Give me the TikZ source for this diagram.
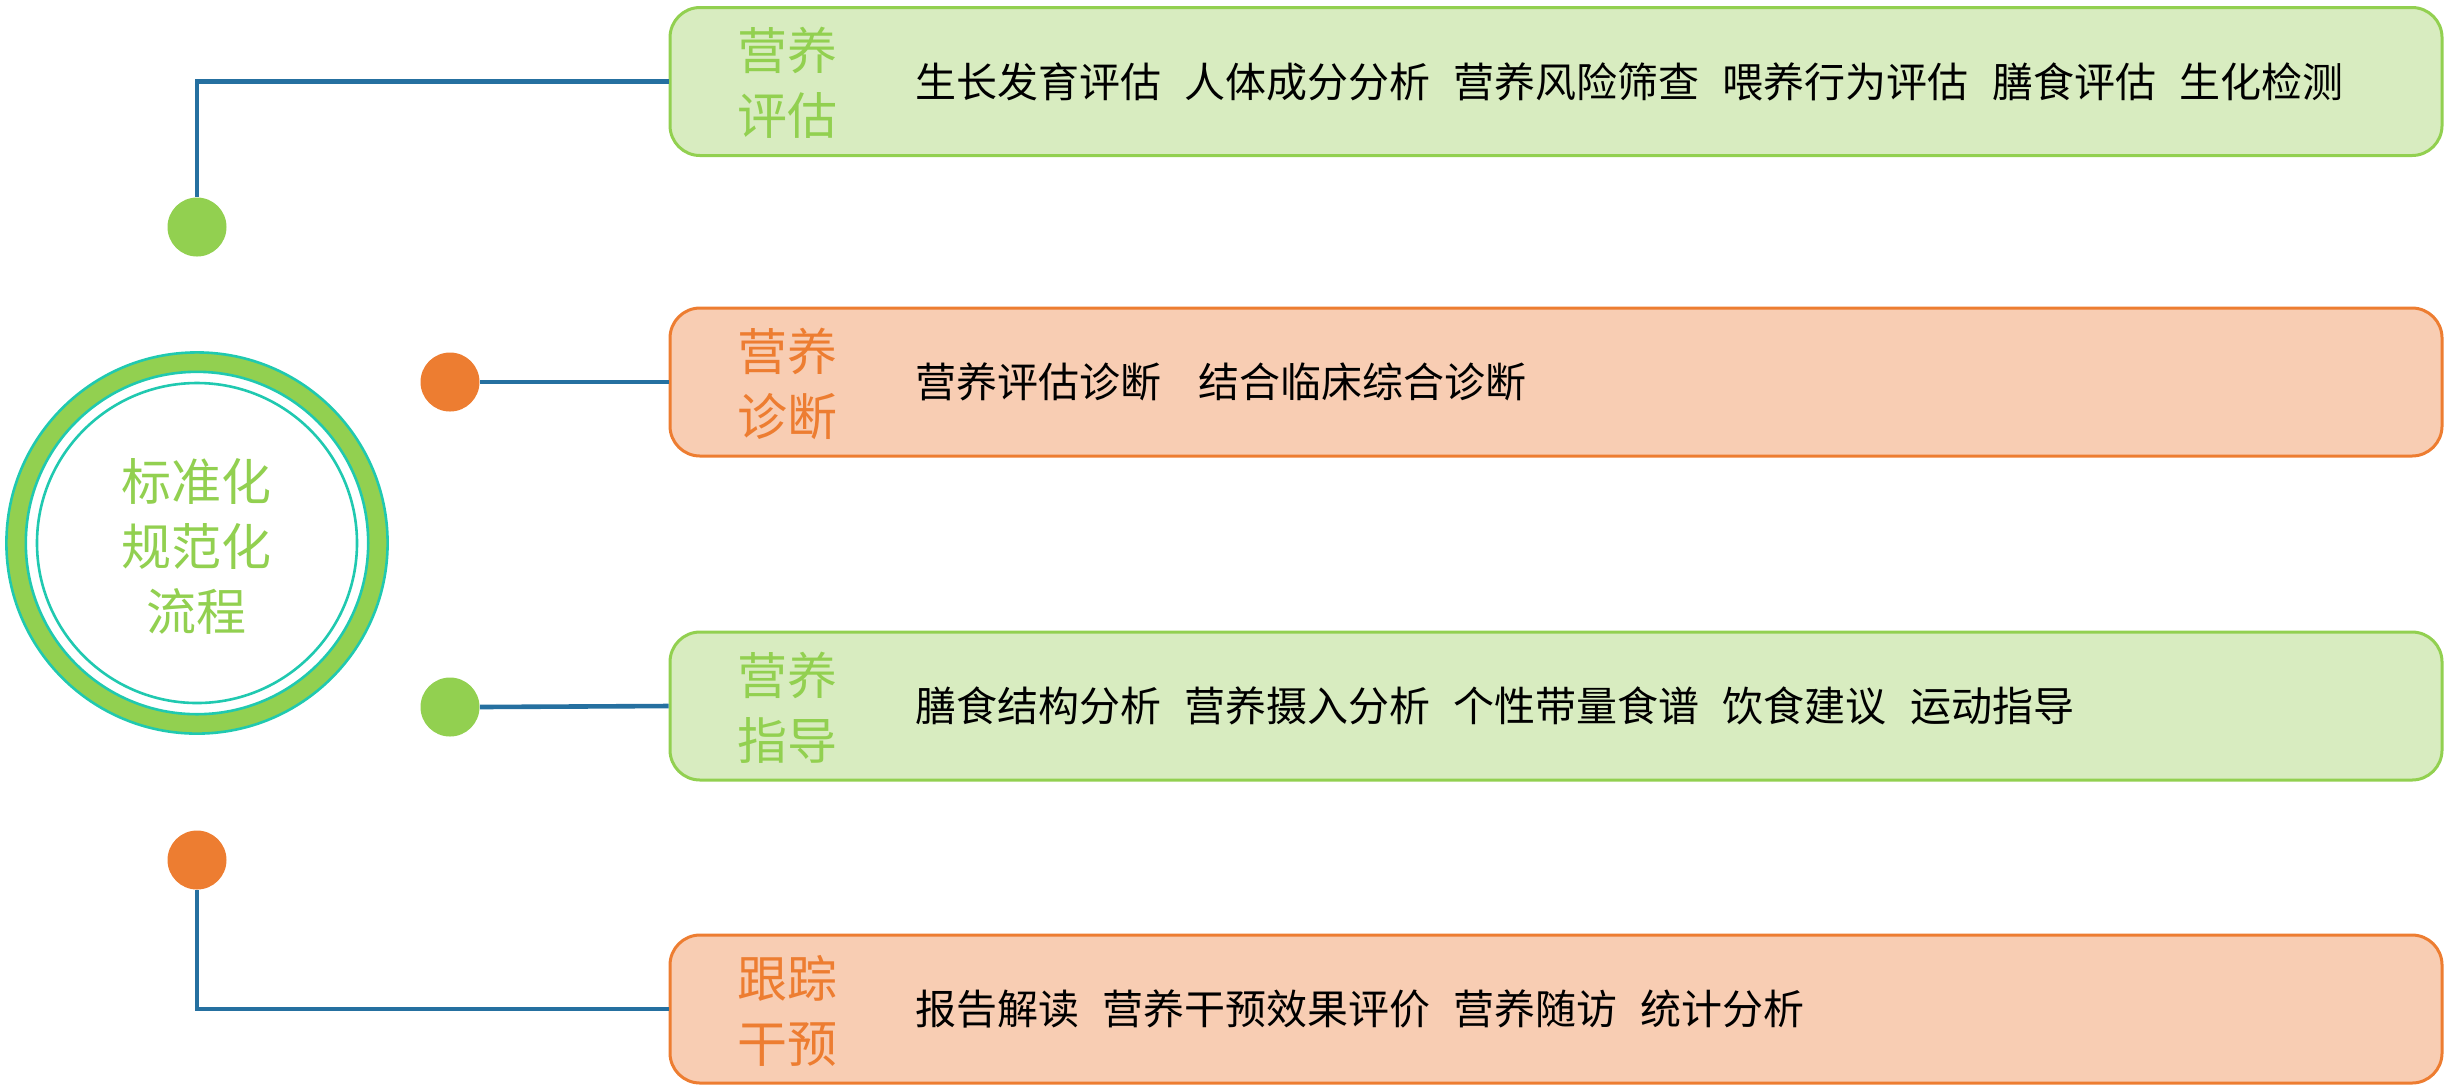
\documentclass[tikz,border=0pt]{standalone}
\usepackage{fontspec}
\setmainfont{Noto Sans CJK SC}
\definecolor{leafGreen}{HTML}{92D050}
\definecolor{leafPale}{HTML}{D8ECC0}
\definecolor{sunOrange}{HTML}{ED7D31}
\definecolor{sunPale}{HTML}{F8CDB3}
\definecolor{ringTeal}{HTML}{20C9B0}
\definecolor{linkBlue}{HTML}{2570A0}
\newcommand{\titleSize}{\fontsize{25pt}{32.5pt}\selectfont}
\newcommand{\itemSize}{\fontsize{20.5pt}{24pt}\selectfont}
\newcommand{\itemGap}{\hspace{0.565em}}
\newcommand{\wideGap}{\hspace{0.9em}}
\newcommand{\boxWidth}{886pt}
\newcommand{\boxHeight}{74pt}
\newcommand{\dotSize}{29.5pt}

\begin{document}
\begin{tikzpicture}[x=0.5pt, y=-0.5pt,
    link/.style={draw=linkBlue, line width=2.3pt},
    dot/.style={circle, fill=#1, minimum size=\dotSize, inner sep=0pt},
    stagebox/.style 2 args={rectangle, rounded corners=15pt, draw=#1, fill=#2,
        line width=1.5pt, minimum width=\boxWidth, minimum height=\boxHeight},
    stagetitle/.style={text=#1, font=\titleSize, align=center, inner sep=0pt},
    stageitems/.style={anchor=west, font=\itemSize, inner sep=0pt}]
\useasboundingbox (0,0) rectangle (2444,1084);

% hub
\node[circle, draw=ringTeal, fill=leafGreen, line width=1.3pt, minimum size=190.6pt] (hub) at (197,543) {};
\node[circle, draw=ringTeal, fill=white, line width=1.3pt, minimum size=171.2pt] (hubgap) at (hub) {};
\node[circle, draw=ringTeal, line width=1.3pt, minimum size=160pt] (hubinner) at (hub) {};
\node[stagetitle=leafGreen] (hubtext) at (196,546) {标准化\\规范化\\流程};

% stages
\node[stagebox={leafGreen}{leafPale}] (assess) at (1556,81.5) {};
\node[stagebox={sunOrange}{sunPale}] (diagnose) at (1556,382) {};
\node[stagebox={leafGreen}{leafPale}] (guide) at (1556,706) {};
\node[stagebox={sunOrange}{sunPale}] (track) at (1556,1009) {};

\node[stagetitle=leafGreen] (assessT) at (787,83) {营养\\评估};
\node[stagetitle=sunOrange] (diagnoseT) at (787,384) {营养\\诊断};
\node[stagetitle=leafGreen] (guideT) at (787,708) {营养\\指导};
\node[stagetitle=sunOrange] (trackT) at (787,1011) {跟踪\\干预};

\node[stageitems] (assessI) at (915,82) {生长发育评估\itemGap 人体成分分析\itemGap 营养风险筛查\itemGap 喂养行为评估\itemGap 膳食评估\itemGap 生化检测};
\node[stageitems] (diagnoseI) at (915,382) {营养评估诊断\wideGap 结合临床综合诊断};
\node[stageitems] (guideI) at (915,706) {膳食结构分析\itemGap 营养摄入分析\itemGap 个性带量食谱\itemGap 饮食建议\itemGap 运动指导};
\node[stageitems] (trackI) at (915,1009) {报告解读\itemGap 营养干预效果评价\itemGap 营养随访\itemGap 统计分析};

% dots and links
\node[dot=leafGreen] (dotA) at (197,227) {};
\node[dot=sunOrange] (dotB) at (450,382) {};
\node[dot=leafGreen] (dotC) at (450,707) {};
\node[dot=sunOrange] (dotD) at (197,860) {};

\draw[link] (dotA.north) |- (assess.west);
\draw[link] (dotB.east) -- (diagnose.west);
\draw[link] (dotC.east) -- (guide.west);
\draw[link] (dotD.south) |- (track.west);
\end{tikzpicture}
\end{document}
